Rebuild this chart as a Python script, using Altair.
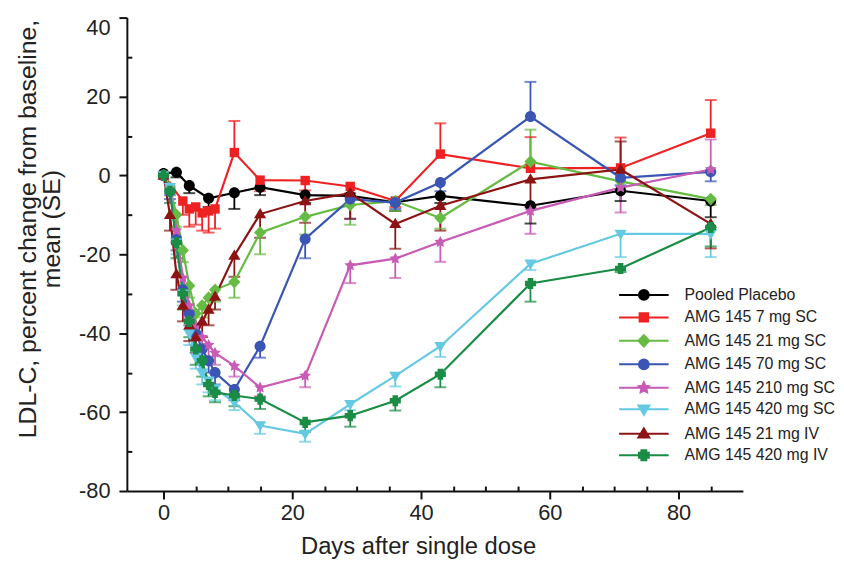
import math
import altair as alt
import pandas as pd

series = ["Pooled Placebo", "AMG 145 7 mg SC", "AMG 145 21 mg SC", "AMG 145 70 mg SC",
          "AMG 145 210 mg SC", "AMG 145 420 mg SC", "AMG 145 21 mg IV", "AMG 145 420 mg IV"]
colors = ["#000000", "#ee2222", "#66bb44", "#3b55b5", "#c75bb5", "#66c9e2", "#8c1414", "#1b8c45"]

full_days = [0, 1, 2, 3, 4, 5, 6, 7, 8, 11, 15, 22, 29, 36, 43, 57, 71, 85]
placebo_days = [0, 2, 4, 7, 11, 15, 22, 29, 36, 43, 57, 71, 85]
sc7_days = [0, 3, 4, 5, 6, 7, 8, 11, 15, 22, 29, 36, 43, 57, 71, 85]

placebo_mean = [0.5, 0.8, -2.6, -5.8, -4.4, -3.0, -5.0, -5.2, -6.8, -5.2, -7.7, -3.9, -6.5]
placebo_err = [0.5, -0.5, -4.5, -8.0, -8.5, -5.0, -7.0, -7.5, -9.0, -7.0, -12.2, -6.5, -10.6]

sc7_mean = [0, -6.5, -8.5, -8.0, -9.5, -9.0, -8.5, 5.8, -1.2, -1.3, -2.8, -6.5, 5.4, 1.8, 1.9, 10.7]
sc7_err = [0, -10, -13, -12.5, -14, -14.5, -13.5, 13.8, -4, -3.8, -4.5, -8, 13.2, 9.7, 9.6, 19.1]

sc21_mean = [0, -3, -10, -19, -28, -35, -33, -31, -29, -27, -14.5, -10.5, -7.5, -6.5, -10.8, 3.5, -1.5, -6]
sc21_err = [0, -5, -13, -22, -31, -38, -36, -34, -32, -31, -20, -15, -12.5, -9, -13.5, 11.6, -4, -7.5]

sc70_mean = [0, -4, -16, -29, -35, -40, -44, -47, -50, -54.3, -43.3, -16.1, -6, -6.9, -1.8, 14.9, -0.6, 0.9]
sc70_err = [0, -6, -19, -32, -38, -43, -47, -50, -53, -57, -46.2, -21, -11, -8.5, -4, 23.7, -2.5, -1.5]

sc210_mean = [0, -3, -14, -26, -33, -38, -41, -43, -45, -48.3, -53.8, -50.8, -22.8, -21.1, -16.9, -9, -3.1, 1.5]
sc210_err = [0, -5, -17, -29, -36, -41, -44, -46, -48, -51, -56, -53.7, -27.3, -26, -21.9, -14.8, -9.4, 9.1]

sc420_mean = [0, -3, -17, -30, -40, -46, -50, -52, -54, -57.5, -63.4, -65.5, -58, -50.8, -43.3, -22.4, -14.8, -14.8]
sc420_err = [0, -5, -20, -33, -43, -49, -53, -55, -57, -59.5, -65.5, -67.5, -59.5, -53.5, -46, -24, -20.7, -20.7]

iv21_mean = [0, -10, -25, -33, -38, -41, -37, -34, -30.7, -20.3, -9.8, -6.5, -4.5, -12.3, -7.7, -1, 1.5, -12.3]
iv21_err = [0, -14, -29, -37, -42, -45, -41, -38, -34, -25.7, -15.8, -12, -11, -18.6, -14, -8, 8.6, -18.5]

iv420_mean = [0, -4, -17, -30, -37, -44, -47, -53, -55, -55.8, -56.7, -62.6, -60.9, -57.1, -50.4, -27.4, -23.6, -13.2]
iv420_err = [0, -7, -21, -34, -41, -48, -51, -56, -57.5, -58.5, -59.2, -65, -63.7, -59.6, -53.7, -32, -24.5, -18]

days_list = [placebo_days, sc7_days, full_days, full_days, full_days, full_days, full_days, full_days]
means = [placebo_mean, sc7_mean, sc21_mean, sc70_mean, sc210_mean, sc420_mean, iv21_mean, iv420_mean]
errs = [placebo_err, sc7_err, sc21_err, sc70_err, sc210_err, sc420_err, iv21_err, iv420_err]

rows = []
for name, days, mean, err in zip(series, days_list, means, errs):
    for d, m, e in zip(days, mean, err):
        rows.append({"series": name, "day": d, "mean": m, "err": e})
df = pd.DataFrame(rows)


def star_path(n=5, inner=0.5, r0=1.1):
    pts = []
    for i in range(2 * n):
        r = r0 if i % 2 == 0 else r0 * inner
        a = math.radians(-90 + 180 / n * i)
        pts.append(f"{r * math.cos(a):.3f},{r * math.sin(a):.3f}")
    return "M" + "L".join(pts) + "Z"


circle = "M1,0A1,1 0 1,1 -1,0A1,1 0 1,1 1,0Z"
square = "M-0.85,-0.85H0.85V0.85H-0.85Z"
diamond = "M0,-1.15L1.1,0L0,1.15L-1.1,0Z"
tri_down = "M-1.1,-0.75H1.1L0,1.1Z"
tri_up = "M-1.1,0.75H1.1L0,-1.1Z"
plus = "M-0.5,-1H0.5V-0.5H1V0.5H0.5V1H-0.5V0.5H-1V-0.5H-0.5Z"
markers = [circle, square, diamond, circle, star_path(), tri_down, tri_up, plus]
legend_paths = ["M-5,0H5" + m for m in markers]

font = "Liberation Sans"
txt = "#222222"
axc = "#111111"
hyphen_labels = "datum.value < 0 ? '-' + abs(datum.value) : '' + datum.value"

xs = alt.Scale(domain=[-5.7, 90], nice=False, zero=False)
ys = alt.Scale(domain=[-80, 40], nice=False, zero=False)
col = alt.Color("series:N", scale=alt.Scale(domain=series, range=colors), legend=None)

major_x = alt.Axis(orient="bottom", values=[0, 20, 40, 60, 80], tickSize=8, tickWidth=2, tickColor=axc,
                   domainColor=axc, domainWidth=2, labelFontSize=22, labelFont=font, labelColor=txt,
                   labelPadding=4, grid=False, title="Days after single dose", titleFontSize=24,
                   titleFont=font, titleColor=txt, titleFontWeight="normal", titleX=294, titleY=63,
                   titleBaseline="alphabetic", titleAlign="center")
minor_x = alt.Axis(orient="bottom", values=[5, 10, 15, 25, 30, 35, 45, 50, 55, 65, 70, 75, 85],
                   tickSize=5, tickWidth=2, tickColor=axc, domain=False, labels=False, grid=False,
                   title=None, offset=-5)
major_y = alt.Axis(orient="left", values=[-80, -60, -40, -20, 0, 20, 40], tickSize=8, tickWidth=2,
                   tickColor=axc, domainColor=axc, domainWidth=2, labelFontSize=22, labelFont=font,
                   labelColor=txt, labelPadding=9, grid=False, labelExpr=hyphen_labels,
                   labelBaseline={"condition": {"test": "datum.value == 40", "value": "top"},
                                  "value": "middle"},
                   title=["LDL-C, percent change from baseline,", "mean (SE)"], titleFontSize=25,
                   titleFont=font, titleColor=txt, titleFontWeight="normal", titleX=-112, titleY=213,
                   titleBaseline="top", titleAlign="center", titleAngle=270, titleLineHeight=24)
minor_y = alt.Axis(orient="left", values=[-70, -50, -30, -10, 10, 30], tickSize=5, tickWidth=2,
                   tickColor=axc, domain=False, labels=False, grid=False, title=None, offset=-5)

base = alt.Chart(df)
has_err = "datum.err != datum.mean"

rules = base.transform_filter(has_err).mark_rule(strokeWidth=1.8).encode(
    x=alt.X("day:Q", scale=xs, axis=minor_x),
    y=alt.Y("mean:Q", scale=ys, axis=minor_y),
    y2="err:Q",
    color=col,
)
caps = base.transform_filter(has_err).mark_tick(orient="horizontal", size=12, thickness=2).encode(
    x=alt.X("day:Q", scale=xs, axis=None),
    y=alt.Y("err:Q", scale=ys, axis=None),
    color=col,
)
lines = base.mark_line(strokeWidth=2.2).encode(
    x=alt.X("day:Q", scale=xs, axis=major_x),
    y=alt.Y("mean:Q", scale=ys, axis=major_y),
    color=col,
)
points = base.mark_point(filled=True, size=125, opacity=1).encode(
    x=alt.X("day:Q", scale=xs, axis=None),
    y=alt.Y("mean:Q", scale=ys, axis=None),
    color=col,
    shape=alt.Shape("series:N", scale=alt.Scale(domain=series, range=markers), legend=None),
)

entry_color = {"expr": "scale('color', datum.value)"}
leg = alt.Legend(orient="none", legendX=514, legendY=272, title=None, labelFontSize=16,
                 labelFont=font, labelColor=txt, symbolSize=100, symbolStrokeWidth=2,
                 labelOffset=33, rowPadding=4.7, padding=0, symbolOpacity=1,
                 symbolFillColor=entry_color, symbolStrokeColor=entry_color)
legend_layer = base.transform_filter("datum.day < -100").mark_point(filled=True, size=100).encode(
    x=alt.X("day:Q", scale=xs, axis=None),
    y=alt.Y("mean:Q", scale=ys, axis=None),
    color=col,
    stroke=alt.Stroke("series:N", scale=alt.Scale(domain=series, range=colors), legend=None),
    shape=alt.Shape("series:N", scale=alt.Scale(domain=series, range=legend_paths), legend=leg),
)

chart = alt.layer(rules, caps, lines, points, legend_layer).resolve_scale(
    shape="independent"
).resolve_axis(
    x="independent", y="independent"
).properties(
    width=622, height=478,
    autosize=alt.AutoSizeParams(type="none"),
    padding={"left": 120, "top": 7, "right": 94, "bottom": 70},
).configure_view(stroke="transparent")

chart.save("out.html", embed_options={"renderer": "svg", "actions": False})
